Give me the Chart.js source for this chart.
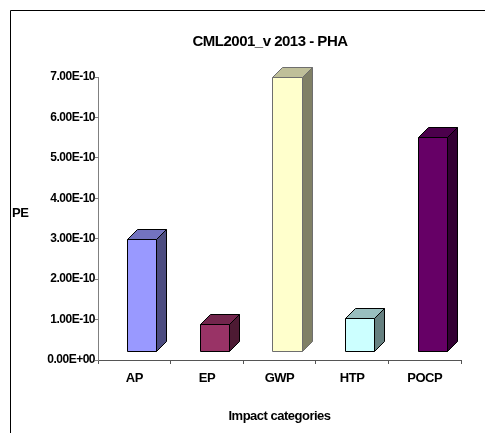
<!DOCTYPE html>
<html>
<head>
<meta charset="utf-8">
<script src="https://cdn.jsdelivr.net/npm/chart.js@4.4.1/dist/chart.umd.min.js"></script>
<style>
  html, body { margin: 0; padding: 0; background: #fff; }
  #wrap { width: 485px; height: 433px; position: relative; }
</style>
</head>
<body>
<div id="wrap"><canvas id="c" width="485" height="433"></canvas></div>
<script>
// ---- data ----
const categories = ['AP', 'EP', 'GWP', 'HTP', 'POCP'];
const peValues = [3.0e-10, 0.89e-10, 7.0e-10, 1.04e-10, 5.52e-10];
const yTickLabels = ['0.00E+00', '1.00E-10', '2.00E-10', '3.00E-10', '4.00E-10', '5.00E-10', '6.00E-10', '7.00E-10'];
const chartTitle = 'CML2001_v 2013 - PHA';
const xTitle = 'Impact categories';
const yTitle = 'PE';

// ---- styles ----
const frontColors = ['#9999FF', '#993366', '#FFFFCC', '#CCFFFF', '#660066'];
const topColors   = ['#7373BF', '#73264D', '#BFBF99', '#99BFBF', '#4C004C'];
const sideColors  = ['#4C4C80', '#4D1A33', '#808066', '#668080', '#330033'];
const edgeColors  = ['#000000', '#000000', '#6E6E6E', '#000000', '#000000'];
const FONT = "'Liberation Sans', Arial, sans-serif";
const LETTER_SPACING = '-0.5px';
const DEPTH = 10, SHIFT_X = 7.5, LIFT = 9;
const TITLE_BOX = { left: 55, right: 485 };

const framePlugin = {
  id: 'frame',
  afterLayout(chart) {
    if (chart.titleBlock) {
      chart.titleBlock.left = TITLE_BOX.left;
      chart.titleBlock.right = TITLE_BOX.right;
      chart.titleBlock.width = TITLE_BOX.right - TITLE_BOX.left;
    }
  },
  beforeDraw(chart) {
    const ctx = chart.ctx;
    ctx.letterSpacing = LETTER_SPACING;
    ctx.save();
    ctx.fillStyle = '#fff';
    ctx.fillRect(0, 0, chart.width, chart.height);
    ctx.strokeStyle = '#000';
    ctx.lineWidth = 1;
    ctx.beginPath();
    ctx.moveTo(10.5, chart.height);
    ctx.lineTo(10.5, 10.5);
    ctx.lineTo(chart.width, 10.5);
    ctx.stroke();
    ctx.restore();
  },
  afterDraw(chart) {
    const ctx = chart.ctx;
    ctx.save();
    ctx.letterSpacing = LETTER_SPACING;
    ctx.fillStyle = '#000';
    ctx.font = 'bold 13px ' + FONT;
    ctx.textAlign = 'left';
    ctx.textBaseline = 'middle';
    ctx.fillText(yTitle, 12, 213);
    ctx.restore();
  }
};

const bar3dPlugin = {
  id: 'bar3d',
  afterDatasetsDraw(chart) {
    const ctx = chart.ctx;
    const meta = chart.getDatasetMeta(0);
    ctx.save();
    ctx.lineWidth = 1;
    ctx.lineJoin = 'miter';
    meta.data.forEach((el, i) => {
      const p = el.getProps(['x', 'y', 'base', 'width'], true);
      const l = Math.round(p.x + SHIFT_X - p.width / 2) + 0.5;
      const r = Math.round(p.x + SHIFT_X + p.width / 2) + 0.5;
      const t = Math.round(p.y) + 0.5;
      const b = Math.round(p.base - LIFT) + 0.5;
      const d = DEPTH;
      ctx.strokeStyle = edgeColors[i];
      ctx.beginPath();
      ctx.moveTo(r, t); ctx.lineTo(r + d, t - d); ctx.lineTo(r + d, b - d); ctx.lineTo(r, b); ctx.closePath();
      ctx.fillStyle = sideColors[i]; ctx.fill(); ctx.stroke();
      ctx.beginPath();
      ctx.moveTo(l, t); ctx.lineTo(l + d, t - d); ctx.lineTo(r + d, t - d); ctx.lineTo(r, t); ctx.closePath();
      ctx.fillStyle = topColors[i]; ctx.fill(); ctx.stroke();
      ctx.beginPath();
      ctx.rect(l, t, r - l, b - t);
      ctx.fillStyle = frontColors[i]; ctx.fill(); ctx.stroke();
    });
    ctx.restore();
  }
};

new Chart(document.getElementById('c'), {
  type: 'bar',
  data: {
    labels: categories,
    datasets: [{
      label: yTitle,
      data: peValues,
      backgroundColor: 'rgba(0,0,0,0)',
      borderWidth: 0,
      barPercentage: 0.4,
      categoryPercentage: 1.0
    }]
  },
  options: {
    responsive: false,
    animation: false,
    devicePixelRatio: 1,
    layout: { padding: { left: 0, right: 24, top: 0, bottom: 0 } },
    plugins: {
      legend: { display: false },
      tooltip: { enabled: false },
      title: {
        display: true,
        text: chartTitle,
        color: '#000',
        font: { family: FONT, size: 15, weight: 'bold' },
        padding: { top: 32.5, bottom: 26.5 }
      }
    },
    scales: {
      x: {
        grid: { drawOnChartArea: false, drawTicks: true, tickLength: 4, color: '#555', offset: true },
        border: { display: true, color: '#555' },
        ticks: { color: '#000', font: { family: FONT, size: 13, weight: 'bold' }, padding: 7, maxRotation: 0 },
        title: { display: true, text: xTitle, color: '#000', font: { family: FONT, size: 13, weight: 'bold' }, padding: { top: 0, bottom: 9.2 } },
        afterFit(s) { s.height = 73; s.paddingLeft = 0; s.paddingRight = 0; }
      },
      y: {
        min: 0,
        max: 7e-10,
        grid: { drawOnChartArea: false, drawTicks: true, tickLength: 3, color: '#808080' },
        border: { display: true, color: '#808080' },
        ticks: {
          stepSize: 1e-10,
          color: '#000',
          padding: 0,
          font: { family: FONT, size: 12, weight: 'bold' },
          callback: (v) => yTickLabels[Math.round(v / 1e-10)]
        },
        afterFit(s) { s.width = 98; s.paddingTop = 0; s.paddingBottom = 0; }
      }
    }
  },
  plugins: [framePlugin, bar3dPlugin]
});
</script>
</body>
</html>
